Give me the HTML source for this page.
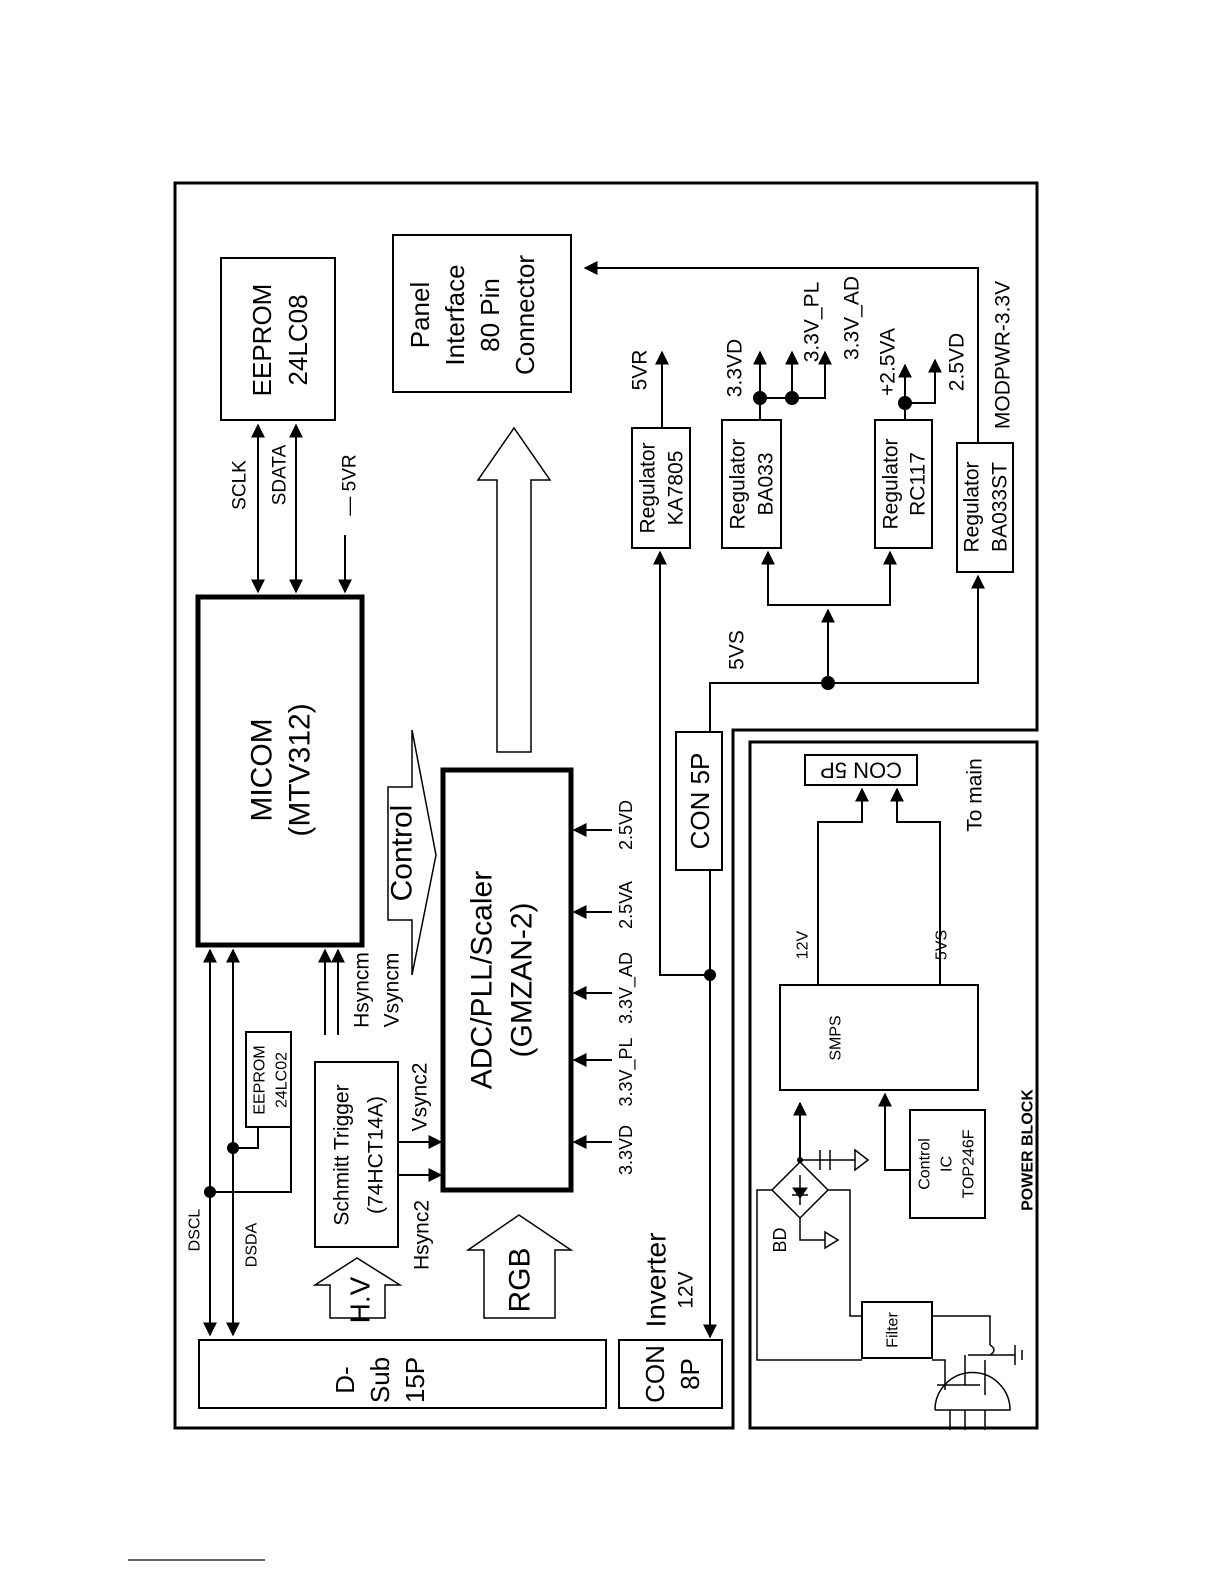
<!DOCTYPE html>
<html><head><meta charset="utf-8"><style>
body{margin:0;background:#fff}
svg{display:block}
text{font-family:"Liberation Sans",sans-serif;fill:#000}
</style></head><body>
<svg width="1224" height="1584" viewBox="0 0 1224 1584" xmlns="http://www.w3.org/2000/svg">
<defs>
<marker id="b" viewBox="0 0 10 10" refX="9" refY="5" markerWidth="14" markerHeight="14" orient="auto-start-reverse" markerUnits="userSpaceOnUse"><path d="M0,0L10,5L0,10z" fill="#000"/></marker>
</defs>
<g fill="none" stroke="#000" stroke-width="2">
<path d="M175,183H1037V730H733V1428H175Z" stroke-width="3"/>
<rect x="750" y="742" width="287" height="686" stroke-width="3"/>
<rect x="221" y="258" width="114" height="162"/>
<rect x="393" y="235" width="178" height="157"/>
<rect x="198" y="597" width="164" height="348" stroke-width="5"/>
<rect x="443" y="770" width="128" height="420" stroke-width="5"/>
<rect x="315" y="1062" width="83" height="185"/>
<rect x="246" y="1032" width="45" height="95"/>
<rect x="199" y="1340" width="407" height="68"/>
<rect x="619" y="1340" width="103" height="68"/>
<rect x="676" y="732" width="46" height="138"/>
<rect x="632" y="428" width="58" height="120"/>
<rect x="722" y="420" width="59" height="128"/>
<rect x="875" y="420" width="57" height="128"/>
<rect x="957" y="443" width="56" height="129"/>
<rect x="780" y="985" width="198" height="105"/>
<rect x="910" y="1110" width="75" height="108"/>
<rect x="862" y="1302" width="70" height="56"/>
<rect x="805" y="755" width="112" height="30"/>
<path d="M497,752V480H478L514,428L550,480H531V752Z" stroke-width="1.5"/>
<path d="M388,787H412V730L436,855L412,975V920H388Z" stroke-width="1.5"/>
<path d="M330,1318V1285H315L357,1258L400,1285H385V1318Z" stroke-width="1.5"/>
<path d="M484,1318V1250H468L519,1215L571,1250H555V1318Z" stroke-width="1.5"/>
<line x1="210" y1="950" x2="210" y2="1335" marker-start="url(#b)" marker-end="url(#b)"/>
<line x1="233" y1="950" x2="233" y2="1335" marker-start="url(#b)" marker-end="url(#b)"/>
<path d="M210,1192H291V1127M233,1148H258V1127"/>
<line x1="258" y1="425" x2="258" y2="592" marker-start="url(#b)" marker-end="url(#b)"/>
<line x1="296" y1="425" x2="296" y2="592" marker-start="url(#b)" marker-end="url(#b)"/>
<line x1="345" y1="535" x2="345" y2="592" marker-end="url(#b)"/>
<line x1="325" y1="1035" x2="325" y2="950" marker-end="url(#b)"/>
<line x1="338" y1="1035" x2="338" y2="950" marker-end="url(#b)"/>
<line x1="398" y1="1142" x2="441" y2="1142" marker-end="url(#b)"/>
<line x1="398" y1="1175" x2="441" y2="1175" marker-end="url(#b)"/>
<g marker-end="url(#b)">
<line x1="612" y1="830" x2="574" y2="830"/>
<line x1="612" y1="912" x2="574" y2="912"/>
<line x1="612" y1="993" x2="574" y2="993"/>
<line x1="612" y1="1060" x2="574" y2="1060"/>
<line x1="612" y1="1142" x2="574" y2="1142"/>
</g>
<line x1="710" y1="870" x2="710" y2="1337" marker-end="url(#b)"/>
<path d="M710,975H660V552" marker-end="url(#b)"/>
<path d="M710,732V683H978V576" marker-end="url(#b)"/>
<line x1="828" y1="683" x2="828" y2="610" marker-end="url(#b)"/>
<path d="M768,552V605H890V552" marker-start="url(#b)" marker-end="url(#b)"/>
<line x1="662" y1="428" x2="662" y2="352" marker-end="url(#b)"/>
<line x1="760" y1="420" x2="760" y2="352" marker-end="url(#b)"/>
<path d="M760,398H825V352" marker-end="url(#b)"/>
<line x1="792" y1="398" x2="792" y2="352" marker-end="url(#b)"/>
<line x1="905" y1="420" x2="905" y2="365" marker-end="url(#b)"/>
<path d="M905,403H935V360" marker-end="url(#b)"/>
<path d="M978,443V268H585" marker-end="url(#b)"/>
<path d="M818,985V822H862V789" marker-end="url(#b)"/>
<path d="M940,985V822H897V789" marker-end="url(#b)"/>
<line x1="800" y1="1163" x2="800" y2="1103" marker-end="url(#b)"/>
<path d="M910,1170H885V1094" marker-end="url(#b)"/>
<path d="M800,1162L828,1190L800,1218L772,1190Z" stroke-width="1.5"/>
<path d="M800,1175V1205M792,1195H808" stroke-width="1.5"/>
<path d="M793,1188H807L800,1198Z" fill="#000" stroke-width="1"/>
<path d="M800,1162V1150M800,1160H855M820,1150V1170M830,1150V1170M800,1218V1240H825M772,1190H757V1360H862M828,1190H850V1316H862M932,1316H990V1345M932,1360H945V1390" stroke-width="1.5"/>
<path d="M825,1232L838,1240L825,1248Z M855,1150L868,1160L855,1170Z" stroke-width="1.5"/>
<path d="M937,1385H980M935,1410A37,37 0 0 1 1010,1410H935" stroke-width="1.5"/>
<path d="M950,1410V1430M965,1410V1430M985,1410V1430M985,1395V1360M965,1385V1355M968,1355H1015M1015,1345V1365M1022,1350V1360" stroke-width="1.5"/>
<path d="M990,1345q8,5 0,10" stroke-width="1.5"/>
</g>
<g fill="#000">
<circle cx="210" cy="1192" r="6"/><circle cx="233" cy="1148" r="6"/>
<circle cx="710" cy="975" r="6"/><circle cx="828" cy="683" r="7"/>
<circle cx="760" cy="398" r="7"/><circle cx="792" cy="398" r="7"/><circle cx="905" cy="403" r="7"/>
<circle cx="800" cy="1160" r="3"/>
</g>
<line x1="128" y1="1560" x2="265" y2="1560" stroke="#333" stroke-width="1.5"/>
<g text-anchor="middle" dominant-baseline="central">
<g font-size="26">
<text transform="translate(262,340) rotate(-90)">EEPROM</text>
<text transform="translate(298,340) rotate(-90)">24LC08</text>
<text transform="translate(420,315) rotate(-90)">Panel</text>
<text transform="translate(455,315) rotate(-90)">Interface</text>
<text transform="translate(490,315) rotate(-90)">80 Pin</text>
<text transform="translate(525,315) rotate(-90)">Connector</text>
<text transform="translate(262,770) rotate(-90)" font-size="30">MICOM</text>
<text transform="translate(300,770) rotate(-90)" font-size="30">(MTV312)</text>
<text transform="translate(482,980) rotate(-90)" font-size="30">ADC/PLL/Scaler</text>
<text transform="translate(522,980) rotate(-90)" font-size="30">(GMZAN-2)</text>
<text transform="translate(402,853) rotate(-90)" font-size="30">Control</text>
<text transform="translate(360,1300) rotate(-90)" font-size="28">H.V</text>
<text transform="translate(520,1280) rotate(-90)" font-size="30">RGB</text>
<text transform="translate(345,1380) rotate(-90)">D-</text>
<text transform="translate(380,1380) rotate(-90)">Sub</text>
<text transform="translate(415,1380) rotate(-90)">15P</text>
<text transform="translate(655,1374) rotate(-90)">CON</text>
<text transform="translate(690,1374) rotate(-90)">8P</text>
<text transform="translate(700,801) rotate(-90)">CON 5P</text>
<text transform="translate(656,1280) rotate(-90)" font-size="28">Inverter</text>
<text transform="translate(861,770) rotate(180)" font-size="22">CON 5P</text>
</g>
<g font-size="21">
<text transform="translate(342,1155) rotate(-90)">Schmitt Trigger</text>
<text transform="translate(376,1155) rotate(-90)">(74HCT14A)</text>
<text transform="translate(260,1080) rotate(-90)" font-size="16">EEPROM</text>
<text transform="translate(282,1080) rotate(-90)" font-size="16">24LC02</text>
<text transform="translate(648,488) rotate(-90)">Regulator</text>
<text transform="translate(676,488) rotate(-90)">KA7805</text>
<text transform="translate(738,484) rotate(-90)">Regulator</text>
<text transform="translate(766,484) rotate(-90)">BA033</text>
<text transform="translate(891,484) rotate(-90)">Regulator</text>
<text transform="translate(918,484) rotate(-90)">RC117</text>
<text transform="translate(972,507) rotate(-90)">Regulator</text>
<text transform="translate(1000,507) rotate(-90)">BA033ST</text>
<text transform="translate(240,485) rotate(-90)" font-size="19">SCLK</text>
<text transform="translate(280,475) rotate(-90)" font-size="19">SDATA</text>
<text transform="translate(350,485) rotate(-90)" font-size="19">— 5VR</text>
<text transform="translate(362,990) rotate(-90)">Hsyncm</text>
<text transform="translate(392,990) rotate(-90)">Vsyncm</text>
<text transform="translate(420,1097) rotate(-90)">Vsync2</text>
<text transform="translate(422,1235) rotate(-90)">Hsync2</text>
<text transform="translate(195,1230) rotate(-90)" font-size="16">DSCL</text>
<text transform="translate(252,1245) rotate(-90)" font-size="16">DSDA</text>
<text transform="translate(626,825) rotate(-90)" font-size="18">2.5VD</text>
<text transform="translate(626,905) rotate(-90)" font-size="18">2.5VA</text>
<text transform="translate(626,988) rotate(-90)" font-size="18">3.3V_AD</text>
<text transform="translate(626,1072) rotate(-90)" font-size="18">3.3V_PL</text>
<text transform="translate(626,1150) rotate(-90)" font-size="18">3.3VD</text>
<text transform="translate(686,1290) rotate(-90)">12V</text>
<text transform="translate(737,650) rotate(-90)">5VS</text>
<text transform="translate(640,370) rotate(-90)">5VR</text>
<text transform="translate(735,368) rotate(-90)">3.3VD</text>
<text transform="translate(812,322) rotate(-90)">3.3V_PL</text>
<text transform="translate(852,318) rotate(-90)">3.3V_AD</text>
<text transform="translate(888,362) rotate(-90)">+2.5VA</text>
<text transform="translate(957,362) rotate(-90)">2.5VD</text>
<text transform="translate(1003,355) rotate(-90)">MODPWR-3.3V</text>
<text transform="translate(975,795) rotate(-90)">To main</text>
</g>
<g font-size="16">
<text transform="translate(803,945) rotate(-90)">12V</text>
<text transform="translate(942,945) rotate(-90)">5VS</text>
<text transform="translate(836,1038) rotate(-90)">SMPS</text>
<text transform="translate(925,1164) rotate(-90)">Control</text>
<text transform="translate(947,1164) rotate(-90)">IC</text>
<text transform="translate(969,1164) rotate(-90)">TOP246F</text>
<text transform="translate(893,1330) rotate(-90)">Filter</text>
<text transform="translate(780,1240) rotate(-90)" font-size="18">BD</text>
<text transform="translate(1028,1150) rotate(-90)" font-weight="bold">POWER BLOCK</text>
</g>
</g>
</svg>
</body></html>
